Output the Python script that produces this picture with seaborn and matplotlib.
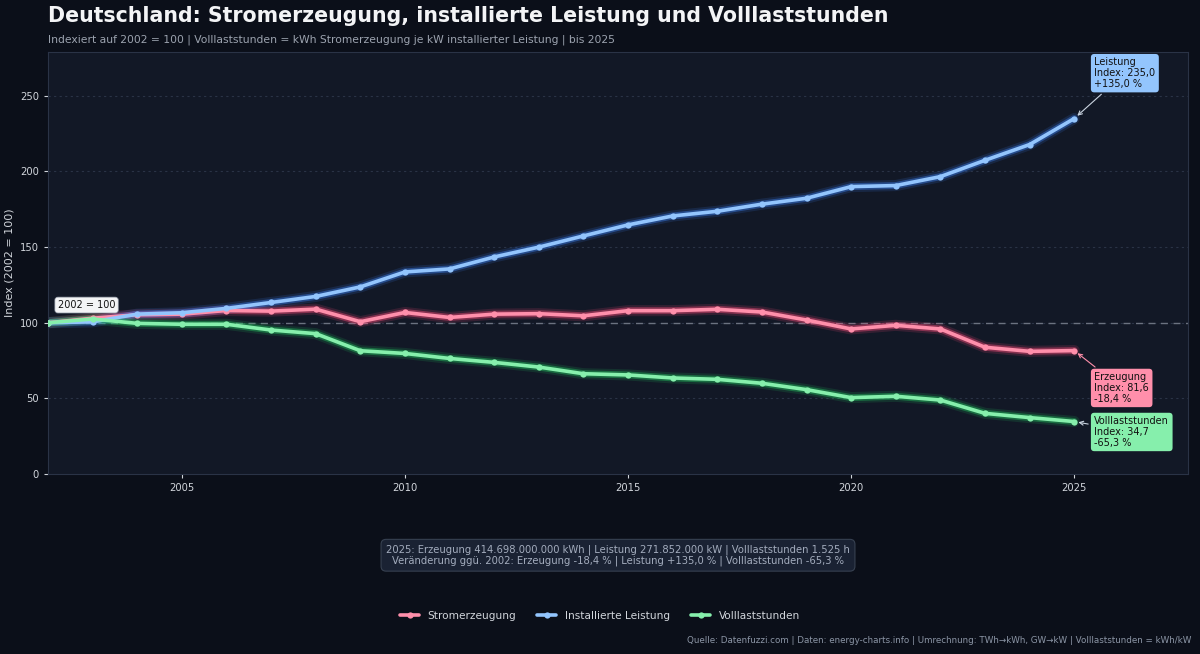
import pandas as pd
import matplotlib.pyplot as plt
import seaborn as sns

# Index values (2002 = 100)
years = list(range(2002, 2026))
erzeugung = [100.0, 103.0, 105.3, 105.7, 108.1, 107.7, 109.0, 100.7, 106.8, 103.5, 105.7, 106.0,
             104.6, 108.0, 108.0, 108.9, 107.1, 101.8, 95.9, 98.3, 95.9, 83.8, 81.1, 81.6]
leistung = [100.0, 100.6, 105.7, 106.6, 109.5, 113.4, 117.4, 123.7, 133.6, 135.6, 143.5, 150.0,
            157.4, 164.7, 170.6, 173.7, 178.4, 182.3, 190.0, 190.7, 196.6, 207.4, 217.8, 235.0]
volllast = [100.0, 102.5, 99.6, 99.0, 99.0, 95.2, 92.8, 81.5, 79.7, 76.4, 73.8, 70.7,
            66.3, 65.5, 63.5, 62.6, 60.0, 55.8, 50.5, 51.4, 48.9, 40.1, 37.3, 34.7]

series_names = ["Stromerzeugung", "Installierte Leistung", "Volllaststunden"]
series_values = [erzeugung, leistung, volllast]
colors = ["#ff8fab", "#93c5fd", "#86efac"]
glow_colors = ["#ff4d7d", "#3b82f6", "#22c55e"]

bg_fig = "#0b0f19"
bg_ax = "#121826"

sns.set_theme(style="dark")
plt.rcParams["font.family"] = ["DejaVu Sans"]

fig = plt.figure(figsize=(12, 6.54), dpi=100, facecolor=bg_fig)
ax = fig.add_axes([0.04, 0.2752, 0.95, 0.6453])
ax.set_facecolor(bg_ax)

# grid + reference line
for yv in [50, 100, 150, 200, 250]:
    ax.axhline(yv, color="#2a3346", lw=0.8, ls=(0, (2, 3)), zorder=0)
ax.axhline(100, color="#6b7280", lw=1.0, ls=(0, (5, 4)), zorder=1)

for name, vals, col, gcol in zip(series_names, series_values, colors, glow_colors):
    df = pd.DataFrame({"Jahr": years, "Index": vals})
    # glow layers
    sns.lineplot(data=df, x="Jahr", y="Index", ax=ax, color=gcol, lw=8, alpha=0.15, legend=False, zorder=2)
    sns.lineplot(data=df, x="Jahr", y="Index", ax=ax, color=gcol, lw=5, alpha=0.4, legend=False, zorder=2)
    sns.lineplot(data=df, x="Jahr", y="Index", ax=ax, color=col, lw=2.6, marker="o", markersize=4.5,
                 markeredgewidth=0, label=name, zorder=3)

ax.set_xlim(2002, 2027.55)
ax.set_ylim(0, 279)
ax.set_xticks([2005, 2010, 2015, 2020, 2025])
ax.set_yticks([0, 50, 100, 150, 200, 250])
ax.tick_params(colors="#d1d5db", labelsize=7.2, length=3, width=0.8, bottom=True, left=True)
ax.set_xlabel("")
ax.set_ylabel("Index (2002 = 100)", color="#d1d5db", fontsize=8)
for s in ax.spines.values():
    s.set_color("#2a3346")
    s.set_linewidth(0.8)

# annotations
ax.annotate("2002 = 100", xy=(2002, 100), xytext=(2002.22, 111.7), fontsize=7, color="#111111",
            va="center", ha="left",
            bbox=dict(boxstyle="round,pad=0.3", fc="#f3f4f6", ec="#9ca3af", lw=0.5))

ax.annotate("Leistung\nIndex: 235,0\n+135,0 %", xy=(2025, leistung[-1]), xytext=(2025.45, 265),
            fontsize=7, color="#111111", va="center", ha="left", linespacing=1.1,
            bbox=dict(boxstyle="round,pad=0.35", fc=colors[1], ec="none"),
            arrowprops=dict(arrowstyle="->", color="#cbd5e1", lw=0.8, shrinkB=3))
ax.annotate("Erzeugung\nIndex: 81,6\n-18,4 %", xy=(2025, erzeugung[-1]), xytext=(2025.45, 56.9),
            fontsize=7, color="#111111", va="center", ha="left", linespacing=1.1,
            bbox=dict(boxstyle="round,pad=0.35", fc=colors[0], ec="none"),
            arrowprops=dict(arrowstyle="->", color="#ff8fab", lw=0.8, shrinkB=3))
ax.annotate("Volllaststunden\nIndex: 34,7\n-65,3 %", xy=(2025, volllast[-1]), xytext=(2025.45, 27.8),
            fontsize=7, color="#111111", va="center", ha="left", linespacing=1.1,
            bbox=dict(boxstyle="round,pad=0.35", fc=colors[2], ec="none"),
            arrowprops=dict(arrowstyle="->", color="#cbd5e1", lw=0.8, shrinkB=3))

# legend
ax.get_legend().remove()
h, l = ax.get_legend_handles_labels()
fig.legend(h, l, loc="center", bbox_to_anchor=(0.5, 0.058), ncol=3, frameon=False,
           fontsize=7.6, labelcolor="#d1d5db", handlelength=1.8, columnspacing=2.0)

# titles
fig.text(0.04, 0.975, "Deutschland: Stromerzeugung, installierte Leistung und Volllaststunden",
         fontsize=14.8, fontweight="bold", color="#f3f4f6", va="center", ha="left")
fig.text(0.04, 0.939, "Indexiert auf 2002 = 100 | Volllaststunden = kWh Stromerzeugung je kW installierter Leistung | bis 2025",
         fontsize=7.75, color="#9ca3af", va="center", ha="left")

# info box
fig.text(0.515, 0.151,
         "2025: Erzeugung 414.698.000.000 kWh | Leistung 271.852.000 kW | Volllaststunden 1.525 h\n"
         "Veränderung ggü. 2002: Erzeugung -18,4 % | Leistung +135,0 % | Volllaststunden -65,3 %",
         fontsize=7.2, color="#a3acbd", ha="center", va="center", linespacing=1.1,
         bbox=dict(boxstyle="round,pad=0.5", fc="#1a2233", ec="#374151", lw=0.8))

# footer
fig.text(0.993, 0.02, "Quelle: Datenfuzzi.com | Daten: energy-charts.info | Umrechnung: TWh→kWh, GW→kW | Volllaststunden = kWh/kW",
         fontsize=6.35, color="#8b95a5", ha="right", va="center")

fig.savefig("out.png", dpi=100, facecolor=bg_fig)
